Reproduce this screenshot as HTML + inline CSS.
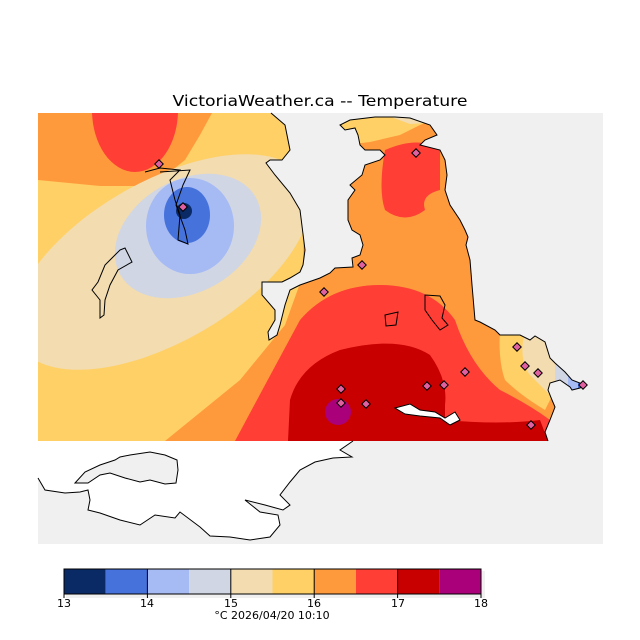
<!DOCTYPE html>
<html><head><meta charset="utf-8"><style>
html,body{margin:0;padding:0;background:#fff;}
svg{display:block;font-family:"DejaVu Sans","Liberation Sans",sans-serif;}
</style></head><body>
<svg width="640" height="640" viewBox="0 0 640 640" xmlns="http://www.w3.org/2000/svg">
<defs>
<clipPath id="f"><rect x="38" y="113" width="565" height="328"/></clipPath>
</defs>
<text x="320" y="106" font-size="15" text-anchor="middle" textLength="295" lengthAdjust="spacingAndGlyphs" fill="#000">VictoriaWeather.ca -- Temperature</text>
<rect x="38" y="113" width="565" height="431" fill="#f0f0f0"/>
<g clip-path="url(#f)">
<rect x="38" y="113" width="565" height="328" fill="#ffd066"/>
<polygon points="38,113 212,113 200,135 185,160 160,180 140,186 100,186 38,180" fill="#ff9a3c"/>
<ellipse cx="135" cy="110" rx="43" ry="62" fill="#ff3e36"/>
<ellipse cx="162" cy="262" rx="165" ry="80" transform="rotate(-30 162 262)" fill="#f2dcb0"/>
<ellipse cx="188" cy="236" rx="78" ry="56" transform="rotate(-30 188 236)" fill="#d0d6e4"/>
<ellipse cx="190" cy="226" rx="44" ry="48" fill="#a6baf4"/>
<ellipse cx="187" cy="215" rx="23" ry="28" fill="#4672dc"/>
<circle cx="184" cy="211" r="8" fill="#0a2a66"/>
<polygon points="165,441 240,380 285,325 303,275 305,113 603,113 603,441" fill="#ff9a3c"/>
<polygon points="340,113 450,113 420,125 400,135 370,142 345,145" fill="#ffd066"/>
<polygon points="380,113 450,113 440,122 410,124" fill="#f2dcb0"/>
<path d="M385,150 Q420,135 440,150 L440,190 Q420,195 425,210 Q405,225 385,210 Q378,190 385,150Z" fill="#ff3e36"/>
<path d="M235,441 L265,385 L300,320 Q330,285 380,285 Q430,285 455,320 Q470,365 500,390 Q530,405 550,420 L552,441Z" fill="#ff3e36"/>
<path d="M288,441 L290,400 Q300,365 340,350 Q400,335 430,355 Q448,380 445,405 L445,441Z" fill="#c80000"/>
<path d="M445,420 Q500,425 540,420 L548,441 L445,441Z" fill="#c80000"/>
<circle cx="338" cy="412" r="13" fill="#aa007a"/>
<path d="M500,330 Q498,360 505,380 Q520,395 545,410 L560,380 L560,330Z" fill="#ffd066"/>
<path d="M525,330 Q518,360 530,375 Q545,390 550,395 L560,380 L560,330Z" fill="#f2dcb0"/>
<rect x="555" y="355" width="50" height="45" fill="#d0d6e4"/>
<rect x="568" y="355" width="40" height="45" fill="#a6baf4"/>
<rect x="578" y="378" width="10" height="12" fill="#4672dc"/>
</g>
<path d="M271,113 L285,125 290,150 282,160 270,160 266,163 275,175 290,193 300,210 305,250 303,265 300,272 290,278 282,282 262,282 262,295 275,310 275,320 268,332 269,340 277,335 280,325 285,305 290,290 300,285 320,278 330,273 335,268 353,267 352,258 360,255 363,245 360,235 352,230 348,220 348,200 355,190 350,185 362,175 365,165 380,160 385,155 380,150 365,150 360,145 358,135 355,128 345,130 340,125 350,120 375,117 395,117 410,118 430,125 437,135 425,140 420,145 440,150 445,160 447,175 445,190 450,205 460,220 465,230 468,237 466,245 470,260 472,285 475,320 480,322 495,330 500,335 520,335 530,340 535,336 545,342 550,358 555,363 565,372 572,380 585,385 580,388 572,390 570,387 560,380 550,383 548,390 552,400 555,407 550,420 545,432 548,441 603,441 603,113Z" fill="#f0f0f0"/>
<path d="M271,113 L285,125 290,150 282,160 270,160 266,163 275,175 290,193 300,210 305,250 303,265 300,272 290,278 282,282 262,282 262,295 275,310 275,320 268,332 269,340 277,335 280,325 285,305 290,290 300,285 320,278 330,273 335,268 353,267 352,258 360,255 363,245 360,235 352,230 348,220 348,200 355,190 350,185 362,175 365,165 380,160 385,155 380,150 365,150 360,145 358,135 355,128 345,130 340,125 350,120 375,117 395,117 410,118 430,125 437,135 425,140 420,145 440,150 445,160 447,175 445,190 450,205 460,220 465,230 468,237 466,245 470,260 472,285 475,320 480,322 495,330 500,335 520,335 530,340 535,336 545,342 550,358 555,363 565,372 572,380 585,385 580,388 572,390 570,387 560,380 550,383 548,390 552,400 555,407 550,420 545,432 548,441" fill="none" stroke="#000" stroke-width="1"/>
<path d="M395,408 L410,404 420,410 435,412 445,418 455,412 460,420 450,425 440,418 420,416 405,414Z" fill="#fff" stroke="#000" stroke-width="1"/>
<path d="M300,118 L340,118 L340,113 L300,113Z" fill="#f0f0f0"/>
<path d="M38,441 L353,441 340,450 352,457 333,458 315,462 300,470 290,482 280,495 290,505 283,510 265,505 245,500 260,512 278,515 280,525 270,537 250,540 230,537 210,536 200,527 180,512 175,518 155,515 140,525 120,520 100,513 88,510 90,500 88,490 80,492 65,493 45,490 38,478Z" fill="#fff"/>
<path d="M353,441 L340,450 352,457 333,458 315,462 300,470 290,482 280,495 290,505 283,510 265,505 245,500 260,512 278,515 280,525 270,537 250,540 230,537 210,536 200,527 180,512 175,518 155,515 140,525 120,520 100,513 88,510 90,500 88,490 80,492 65,493 45,490 38,478" fill="none" stroke="#000" stroke-width="1"/>
<path d="M75,483 L85,472 100,465 115,460 120,457 130,455 150,452 165,455 177,460 178,470 176,483 165,484 150,480 140,482 125,478 110,473 100,475 88,483Z" fill="#f0f0f0" stroke="#000" stroke-width="1"/>
<path d="M145,172 L160,168 180,170 170,180 175,200 180,215 178,240 188,244 185,230 176,205 183,185 190,170 160,172" fill="none" stroke="#000" stroke-width="1"/>
<path d="M120,250 L125,248 132,262 118,270 110,285 105,300 104,315 100,318 100,300 92,290 98,282 105,265 115,255Z" fill="none" stroke="#000" stroke-width="1"/>
<path d="M425,295 L440,296 445,305 442,318 448,325 440,330 432,320 425,310Z" fill="none" stroke="#000" stroke-width="1"/>
<path d="M385,315 L398,312 396,325 386,326Z" fill="none" stroke="#000" stroke-width="1"/>
<g fill="#e060a0" stroke="#000" stroke-width="1">
<rect x="156" y="161" width="6" height="6" transform="rotate(45 159 164)"/>
<rect x="180" y="204" width="6" height="6" transform="rotate(45 183 207)"/>
<rect x="413" y="150" width="6" height="6" transform="rotate(45 416 153)"/>
<rect x="359" y="262" width="6" height="6" transform="rotate(45 362 265)"/>
<rect x="321" y="289" width="6" height="6" transform="rotate(45 324 292)"/>
<rect x="514" y="344" width="6" height="6" transform="rotate(45 517 347)"/>
<rect x="522" y="363" width="6" height="6" transform="rotate(45 525 366)"/>
<rect x="535" y="370" width="6" height="6" transform="rotate(45 538 373)"/>
<rect x="580" y="382" width="6" height="6" transform="rotate(45 583 385)"/>
<rect x="338" y="386" width="6" height="6" transform="rotate(45 341 389)"/>
<rect x="338" y="400" width="6" height="6" transform="rotate(45 341 403)"/>
<rect x="363" y="401" width="6" height="6" transform="rotate(45 366 404)"/>
<rect x="424" y="383" width="6" height="6" transform="rotate(45 427 386)"/>
<rect x="441" y="382" width="6" height="6" transform="rotate(45 444 385)"/>
<rect x="462" y="369" width="6" height="6" transform="rotate(45 465 372)"/>
<rect x="528" y="422" width="6" height="6" transform="rotate(45 531 425)"/>
</g>
<rect x="66" y="571" width="419" height="27" fill="#f0f0f0"/>
<g stroke="none">
<rect x="64" y="569" width="41.7" height="25" fill="#0a2a66"/>
<rect x="105.7" y="569" width="41.7" height="25" fill="#4672dc"/>
<rect x="147.4" y="569" width="41.7" height="25" fill="#a6baf4"/>
<rect x="189.1" y="569" width="41.7" height="25" fill="#d0d6e4"/>
<rect x="230.8" y="569" width="41.7" height="25" fill="#f2dcb0"/>
<rect x="272.5" y="569" width="41.7" height="25" fill="#ffd066"/>
<rect x="314.2" y="569" width="41.7" height="25" fill="#ff9a3c"/>
<rect x="355.9" y="569" width="41.7" height="25" fill="#ff3e36"/>
<rect x="397.6" y="569" width="41.7" height="25" fill="#c80000"/>
<rect x="439.3" y="569" width="41.7" height="25" fill="#aa007a"/>
</g>
<rect x="64" y="569" width="417" height="25" fill="none" stroke="#000" stroke-width="1"/>
<g stroke="#000" stroke-width="1">
<line x1="64" y1="569" x2="64" y2="598"/><line x1="147.4" y1="569" x2="147.4" y2="598"/>
<line x1="230.8" y1="569" x2="230.8" y2="598"/><line x1="314.2" y1="569" x2="314.2" y2="598"/>
<line x1="397.6" y1="569" x2="397.6" y2="598"/><line x1="481" y1="569" x2="481" y2="598"/>
</g>
<g font-size="11" text-anchor="middle" fill="#000">
<text x="64" y="607">13</text><text x="147" y="607">14</text><text x="231" y="607">15</text>
<text x="314" y="607">16</text><text x="398" y="607">17</text><text x="481" y="607">18</text>
<text x="272" y="619">°C  2026/04/20 10:10</text>
</g>
</svg>
</body></html>
